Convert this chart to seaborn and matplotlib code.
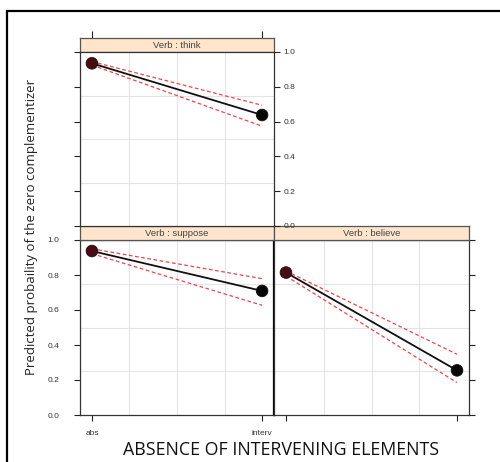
import numpy as np
import pandas as pd
import matplotlib
matplotlib.use("Agg")
import matplotlib.pyplot as plt
from matplotlib.patches import Rectangle
import seaborn as sns

sns.set_theme(style="white")
plt.rcParams["font.family"] = ["Liberation Sans", "DejaVu Sans"]

# Effect estimates per verb: fitted probability and confidence bounds
levels = ["abs", "interv"]
verbs = ["think", "suppose", "believe"]
fit = {"think": [0.935, 0.638], "suppose": [0.937, 0.709], "believe": [0.814, 0.255]}
lower = {"think": [0.925, 0.574], "suppose": [0.922, 0.627], "believe": [0.794, 0.185]}
upper = {"think": [0.945, 0.694], "suppose": [0.950, 0.779], "believe": [0.823, 0.347]}
y_ticks = [0.0, 0.2, 0.4, 0.6, 0.8, 1.0]
y_grid = [0.25, 0.5, 0.75]
x_grid = [0.22, 0.5, 0.78]

W, H = 500, 462
fig = plt.figure(figsize=(W / 100, H / 100), dpi=100)


def box(l, t, r, b):
    return [l / W, 1 - b / H, (r - l) / W, (b - t) / H]


# outer frame
fig.patches.append(Rectangle((7 / W, -0.05), 1.2, 1 - 11 / H + 0.05,
                             transform=fig.transFigure, fill=False,
                             edgecolor="black", lw=1.6))

panels = {
    "think": (80, 52, 274, 226),
    "suppose": (80, 240, 274, 415),
    "believe": (274, 240, 469, 415),
}
strip_h = 14
xlim = (-0.07, 1.07)
tick_kw = dict(labelsize=6, length=4, width=0.8, color="#222222", labelcolor="#333333")

for verb in verbs:
    l, t, r, b = panels[verb]
    ax = fig.add_axes(box(l, t, r, b))
    xs = np.arange(len(levels))
    df = pd.DataFrame({"level": xs, "fit": fit[verb], "lower": lower[verb], "upper": upper[verb]})

    for g in y_grid:
        ax.axhline(g, color="#e4e4e4", lw=0.8, zorder=0)
    for g in x_grid:
        ax.axvline(g, color="#e4e4e4", lw=0.8, zorder=0)

    sns.lineplot(data=df, x="level", y="lower", ax=ax, color="#e8464c", lw=0.9,
                 linestyle=(0, (3, 2)), zorder=2)
    sns.lineplot(data=df, x="level", y="upper", ax=ax, color="#e8464c", lw=0.9,
                 linestyle=(0, (3, 2)), zorder=2)
    sns.lineplot(data=df, x="level", y="fit", ax=ax, color="#111111", lw=1.3, zorder=3)
    sns.scatterplot(data=df, x="level", y="fit", ax=ax, hue="level",
                    palette=["#4a0b12", "#050505"], s=70, legend=False, zorder=4,
                    edgecolor="#111111", linewidth=0.6)

    ax.set_xlim(*xlim)
    ax.set_ylim(0, 1.0)
    ax.set_xticks(xs)
    ax.set_yticks(y_ticks)
    ax.set_xlabel("")
    ax.set_ylabel("")
    for s in ax.spines.values():
        s.set_color("#333333")
        s.set_linewidth(0.9)

    if verb == "think":
        # keep the right-hand tick labels above the neighbouring strip
        ax.set_zorder(5)
        ax.tick_params(axis="y", left=True, right=True, labelleft=False, labelright=True,
                       direction="out", pad=3, **tick_kw)
        ax.set_yticklabels([f"{v:.1f}" for v in y_ticks])
        ax.tick_params(axis="x", bottom=False, labelbottom=False)
    elif verb == "suppose":
        ax.tick_params(axis="y", left=True, right=False, labelleft=True, direction="out",
                       pad=11, **tick_kw)
        ax.set_yticklabels([f"{v:.1f}" for v in y_ticks])
        ax.tick_params(axis="x", bottom=True, labelbottom=True, direction="out", pad=7, **tick_kw)
        ax.set_xticklabels(levels)
        ax.spines["right"].set_color("black")
        ax.spines["right"].set_linewidth(1.6)
    else:
        ax.tick_params(axis="y", left=False, right=True, labelleft=False, labelright=False,
                       direction="out", **tick_kw)
        ax.tick_params(axis="x", bottom=True, labelbottom=False, direction="out", **tick_kw)

    # strip header
    sax = fig.add_axes(box(l, t - strip_h, r, t))
    sax.set_facecolor("#ffe5cc")
    sax.set_xlim(*xlim)
    sax.set_ylim(0, 1)
    sax.set_yticks([])
    if verb == "think":
        sax.set_xticks(xs)
        sax.tick_params(axis="x", top=True, bottom=False, labeltop=False, labelbottom=False,
                        direction="out", length=5, width=0.8, color="#222222")
    else:
        sax.set_xticks([])
    for s in sax.spines.values():
        s.set_color("#555555")
        s.set_linewidth(0.9)
    sax.text(0.5, 0.45, f"Verb : {verb}", transform=sax.transAxes, ha="center",
             va="center", fontsize=6.8, color="#444444")

fig.text(32 / W, 1 - 227 / H, "Predicted probaility of the zero complementizer",
         rotation=90, ha="center", va="center", fontsize=9.5, color="#222222",
         family=["Open Sans", "DejaVu Sans"])
fig.text(281 / W, 1 - 450 / H, "ABSENCE OF INTERVENING ELEMENTS",
         ha="center", va="center", fontsize=12.8, color="#111111",
         family=["Open Sans", "DejaVu Sans"])

fig.savefig("out.png", dpi=100)
